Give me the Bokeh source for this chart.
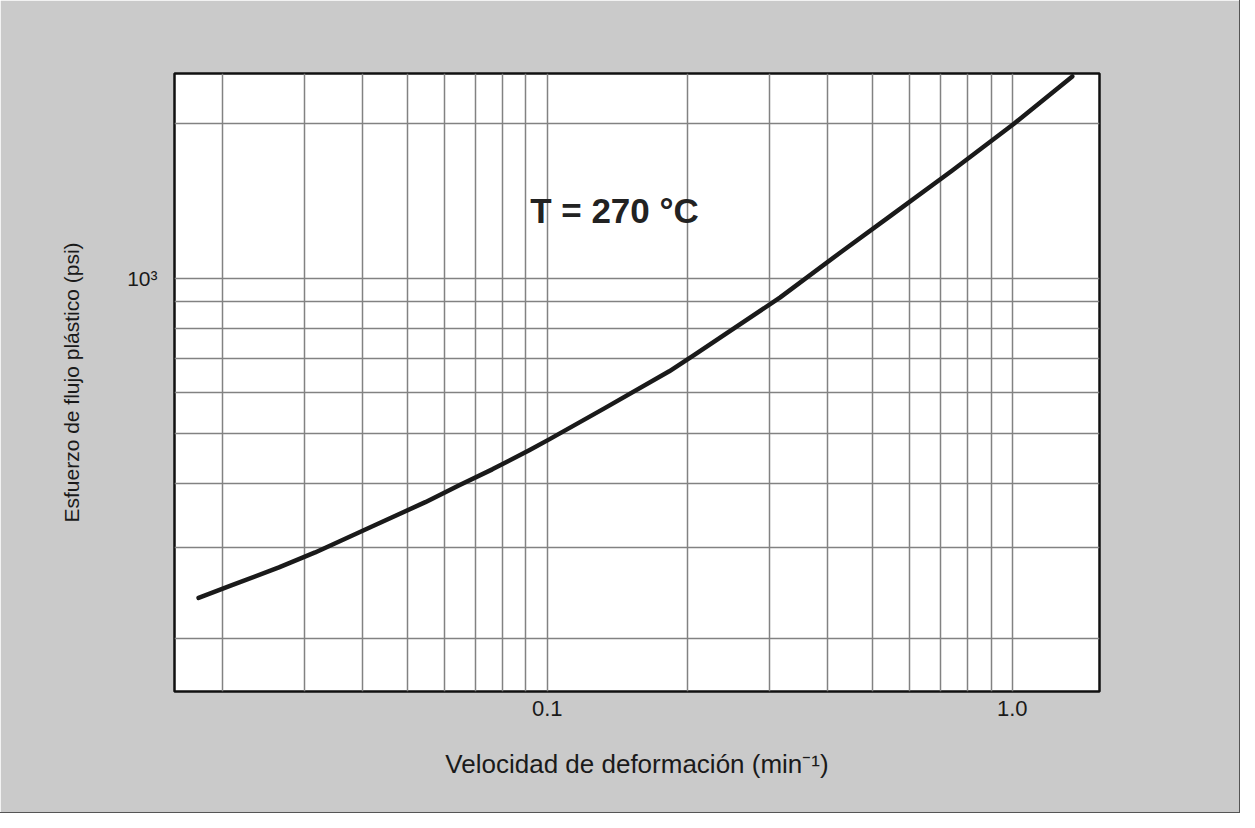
from bokeh.plotting import figure
from bokeh.models import FixedTicker, Label
from bokeh.embed import file_html
from bokeh.resources import INLINE

# ---- data ----
strain_rate = [0.0178, 0.0210, 0.0265, 0.0317, 0.0420, 0.0547, 0.0647, 0.0762,
               0.0915, 0.101, 0.133, 0.183, 0.208, 0.317, 0.427, 0.549, 0.743,
               1.01, 1.346]
flow_stress = [240, 254, 275, 294, 330, 368, 397, 426,
               464, 487, 560, 660, 712, 918, 1122, 1324, 1618,
               1996, 2462]

x_major_ticks = [0.1, 1.0]
x_major_labels = ["0.1", "1.0"]
x_minor_ticks = [0.02, 0.03, 0.04, 0.05, 0.06, 0.07, 0.08, 0.09,
                 0.2, 0.3, 0.4, 0.5, 0.6, 0.7, 0.8, 0.9]
y_major_ticks = [1000]
y_major_labels = ["10³"]
y_minor_ticks = [200, 300, 400, 500, 600, 700, 800, 900, 2000]

x_range = (0.0158, 1.54)
y_range = (158, 2495)

annotation_text = "T = 270 °C"
annotation_x = 0.0919
annotation_y = 1353

x_title = "Velocidad de deformación (min⁻¹)"
y_title = "Esfuerzo de flujo plástico (psi)"

FONT = "Liberation Sans"
BG = "#cacaca"
GRID = "#828282"

p = figure(width=1239, height=812, x_axis_type="log", y_axis_type="log",
           x_range=x_range, y_range=y_range,
           output_backend="svg", toolbar_location=None,
           min_border_left=174, min_border_right=140,
           min_border_top=73, min_border_bottom=121)

p.styles = {"outline": "1px solid #555555"}
p.background_fill_color = "white"
p.border_fill_color = BG
p.outline_line_color = "#111111"
p.outline_line_width = 2.5

p.line(strain_rate, flow_stress, line_color="#1a1a1a", line_width=4.5,
       line_join="round", line_cap="round")

# axes
p.xaxis.ticker = FixedTicker(ticks=x_major_ticks, minor_ticks=x_minor_ticks)
p.yaxis.ticker = FixedTicker(ticks=y_major_ticks, minor_ticks=y_minor_ticks)
p.xaxis.major_label_overrides = dict(zip(x_major_ticks, x_major_labels))
p.yaxis.major_label_overrides = dict(zip(y_major_ticks, y_major_labels))

for ax in (p.xaxis[0], p.yaxis[0]):
    ax.axis_line_color = None
    ax.major_tick_line_color = None
    ax.minor_tick_line_color = None
    ax.major_tick_out = 0
    ax.minor_tick_out = 0
    ax.major_label_text_font = FONT
    ax.major_label_text_font_size = "22px"
    ax.major_label_text_color = "#1a1a1a"
    ax.axis_label_text_font = FONT
    ax.axis_label_text_font_style = "normal"
    ax.axis_label_text_color = "#1a1a1a"

p.xaxis.axis_label = x_title
p.xaxis.axis_label_text_font_size = "26px"
p.xaxis.major_label_standoff = 9
p.xaxis.axis_label_standoff = 30

p.yaxis.axis_label = y_title
p.yaxis.axis_label_text_font_size = "21px"
p.yaxis.major_label_standoff = 17
p.yaxis.major_label_text_font_size = "21px"
p.yaxis.major_label_text_baseline = "bottom"
p.yaxis.axis_label_standoff = 41

# grid
for g in (p.xgrid[0], p.ygrid[0]):
    g.grid_line_color = GRID
    g.grid_line_width = 1.5
    g.minor_grid_line_color = GRID
    g.minor_grid_line_width = 1.5

p.add_layout(Label(x=annotation_x, y=annotation_y, text=annotation_text,
                   text_font=FONT, text_font_style="bold",
                   text_font_size="35px", text_color="#222222",
                   text_align="left", text_baseline="middle"))

open("out.html", "w").write(file_html(p, INLINE))
